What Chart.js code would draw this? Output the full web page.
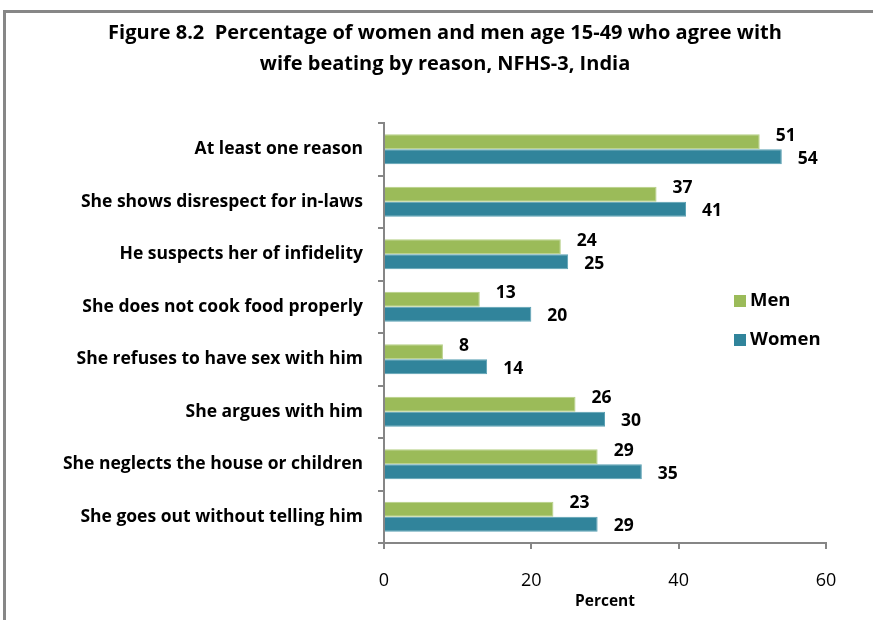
<!DOCTYPE html>
<html>
<head>
<meta charset="utf-8">
<script src="https://cdn.jsdelivr.net/npm/chart.js@4.4.0/dist/chart.umd.min.js"></script>
<style>
  html, body { margin: 0; padding: 0; background: #fff; }
  #wrap { position: relative; width: 873px; height: 620px; overflow: hidden; }
  #frame { position: absolute; left: 3px; top: 10px; width: 900px; height: 700px; border: 3px solid #878787; box-sizing: border-box; }
  canvas { position: absolute; left: 0; top: 0; }
</style>
</head>
<body>
<div id="wrap">
  <div id="frame"></div>
  <canvas id="wifeBeatingChart" width="873" height="620"></canvas>
</div>
<script>
var reasons = [
    "At least one reason",
    "She shows disrespect for in-laws",
    "He suspects her of infidelity",
    "She does not cook food properly",
    "She refuses to have sex with him",
    "She argues with him",
    "She neglects the house or children",
    "She goes out without telling him"
];
var menValues = [51, 37, 24, 13, 8, 26, 29, 23];
var womenValues = [54, 41, 25, 20, 14, 30, 35, 29];
var xTicks = [0, 20, 40, 60];
var titleLines = [
    "Figure 8.2  Percentage of women and men age 15-49 who agree with",
    "wife beating by reason, NFHS-3, India"
];

var fontName = "'Open Sans', sans-serif";

// title, bar value labels and legend on the right
var extrasPlugin = {
    id: "extras",
    afterDraw: function(chart) {
        var ctx = chart.ctx;
        ctx.save();
        ctx.fillStyle = "#000";
        ctx.textAlign = "center";
        ctx.textBaseline = "middle";
        ctx.font = "bold 20px " + fontName;
        ctx.fillText(titleLines[0], 445, 33);
        ctx.fillText(titleLines[1], 445, 64);

        ctx.font = "bold 17.5px " + fontName;
        ctx.textAlign = "left";
        chart.data.datasets.forEach(function(ds, i) {
            var meta = chart.getDatasetMeta(i);
            var shift = i === 0 ? -6 : 2;
            meta.data.forEach(function(bar, j) {
                ctx.fillText(ds.data[j], bar.x + 16, bar.y + shift);
            });
        });

        ctx.font = "bold 18.5px " + fontName;
        var legendY = [301, 340];
        chart.data.datasets.forEach(function(ds, i) {
            ctx.fillStyle = ds.backgroundColor;
            ctx.fillRect(734, legendY[i] - 6, 12, 12);
            ctx.fillStyle = "#000";
            ctx.fillText(ds.label, 750, legendY[i]);
        });
        ctx.restore();
    }
};

var ctxWife = document.getElementById("wifeBeatingChart");
var wifeChart = new Chart(ctxWife, {
    type: "bar",
    data: {
        labels: reasons,
        datasets: [
            {
                label: "Men",
                data: menValues,
                backgroundColor: "#9BBB59",
                borderColor: "#B5CF86",
                borderWidth: 1,
                categoryPercentage: 0.57,
                barPercentage: 1
            },
            {
                label: "Women",
                data: womenValues,
                backgroundColor: "#31849B",
                borderColor: "#5AA0B3",
                borderWidth: 1,
                categoryPercentage: 0.57,
                barPercentage: 1
            }
        ]
    },
    options: {
        indexAxis: "y",
        responsive: false,
        animation: false,
        layout: {
            padding: { top: 123, right: 47, bottom: 0, left: 0 }
        },
        plugins: {
            legend: { display: false },
            tooltip: { enabled: false }
        },
        scales: {
            x: {
                min: 0,
                max: 60,
                afterBuildTicks: function(scale) {
                    scale.ticks = xTicks.map(function(v) { return { value: v }; });
                },
                afterFit: function(scale) {
                    scale.height = 77;
                },
                grid: {
                    drawOnChartArea: false,
                    tickLength: 6,
                    color: "#868686",
                    lineWidth: 2
                },
                border: { color: "#868686", width: 2 },
                ticks: {
                    color: "#000",
                    padding: 21,
                    font: { family: fontName, size: 18 }
                },
                title: {
                    display: true,
                    text: "Percent",
                    color: "#000",
                    padding: { top: 0, bottom: 9 },
                    font: { family: fontName, size: 15.5, weight: "bold" }
                }
            },
            y: {
                afterFit: function(scale) {
                    scale.width = 384;
                },
                grid: {
                    offset: true,
                    drawOnChartArea: false,
                    tickLength: 6,
                    color: "#868686",
                    lineWidth: 2
                },
                border: { color: "#868686", width: 2 },
                ticks: {
                    color: "#000",
                    padding: 15,
                    font: { family: fontName, size: 17.5, weight: "bold" }
                }
            }
        }
    },
    plugins: [extrasPlugin]
});
</script>
</body>
</html>
